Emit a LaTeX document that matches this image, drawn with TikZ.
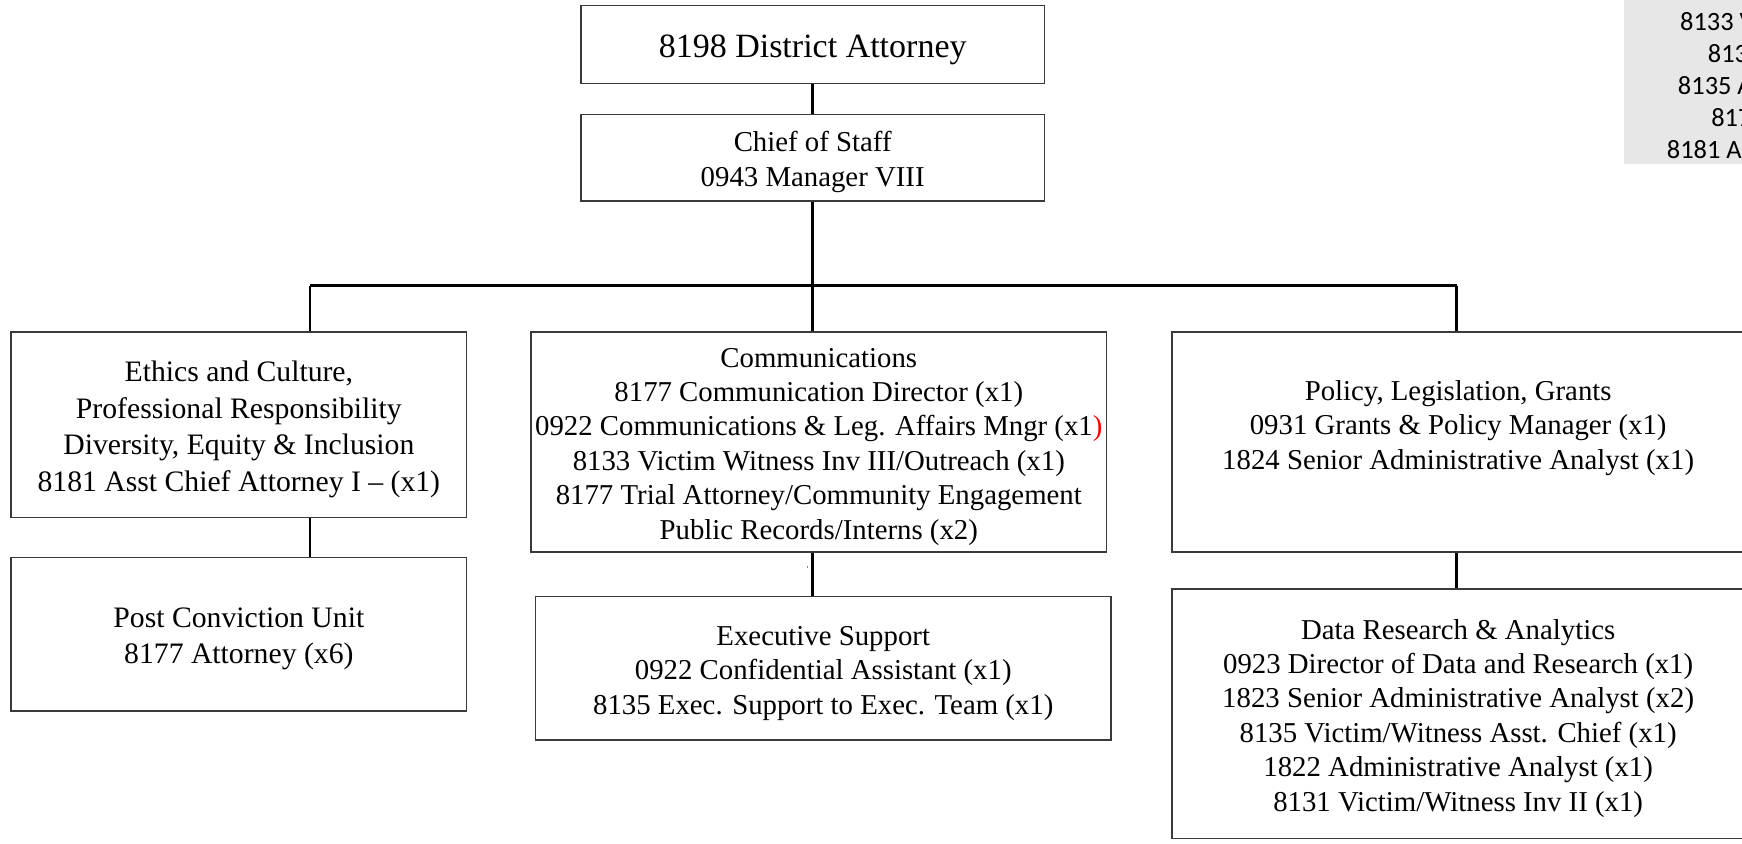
\documentclass[tikz,border=0pt]{standalone}
\usepackage{fontspec}
\setmainfont{Liberation Serif}
\newfontfamily\calib{Carlito}
\definecolor{boxc}{HTML}{3A3A3A}
\definecolor{graybg}{HTML}{E7E7E7}
\begin{document}
\begin{tikzpicture}[x=0.5556pt,y=-0.5556pt]
\tikzset{
  box/.style={draw=boxc, line width=0.7pt, inner sep=0pt},
  txt/.style={inner sep=0pt, align=center, yshift=-2.2pt, font=\fontsize{14.4}{17.2}\selectfont},
  bigtxt/.style={font=\fontsize{14.85}{18.3}\selectfont},
  conn/.style={line width=1.3pt, black},
  side/.style={anchor=west, inner sep=0pt, font=\calib\fontsize{13.2}{16}\selectfont, text=black},
}
\useasboundingbox (0,0) rectangle (1568,759);
\clip (0,0) rectangle (1568,759);
\fill[white] (0,0) rectangle (1568,759);

% side grey panel (cut off at the page edge)
\fill[graybg] (1462,0) rectangle (1600,148);
\node[side] (s1) at (1512,19.8) {8133 V};
\node[side] (s2) at (1537,48.6) {813};
\node[side] (s3) at (1510,77.4) {8135 A};
\node[side] (s4) at (1540,106.2) {817};
\node[side] (s5) at (1500,135) {8181 A};

% boxes
\node[box, minimum width=417*0.5556pt, minimum height=70*0.5556pt] (da) at (731.5,40) {};
\node[box, minimum width=417*0.5556pt, minimum height=78*0.5556pt] (cos) at (731.5,142) {};
\node[box, minimum width=410*0.5556pt, minimum height=167*0.5556pt] (eth) at (215,382.5) {};
\node[box, minimum width=410*0.5556pt, minimum height=138*0.5556pt] (pcu) at (215,571) {};
\node[box, minimum width=518*0.5556pt, minimum height=198*0.5556pt] (com) at (737,398) {};
\node[box, minimum width=518*0.5556pt, minimum height=129*0.5556pt] (exs) at (741,601.5) {};
\node[box, minimum width=515*0.5556pt, minimum height=198*0.5556pt] (pol) at (1312.5,398) {};
\node[box, minimum width=515*0.5556pt, minimum height=225*0.5556pt] (dra) at (1312.5,642.5) {};

% texts
\node[txt, font=\fontsize{17}{20}\selectfont, yshift=-0.6pt] (tda) at (da.center) {8198 District Attorney};
\node[txt] (tcos) at (cos.center) {Chief of Staff\\0943 Manager VIII};
\node[txt, bigtxt] (teth) at (eth.center) {Ethics and Culture,\\Professional Responsibility\\Diversity, Equity \& Inclusion\\8181 Asst Chief Attorney I -- (x1)};
\node[txt, bigtxt] (tpcu) at (pcu.center) {Post Conviction Unit\\8177 Attorney (x6)};
\node[txt] (tcom) at (com.center) {Communications\\8177 Communication Director (x1)\\0922 Communications \& Leg. Affairs Mngr (x1{\color{red})}\\8133 Victim Witness Inv III/Outreach (x1)\\8177 Trial Attorney/Community Engagement\\Public Records/Interns (x2)};
\node[txt, yshift=-0.3pt] (texs) at (exs.center) {Executive Support\\0922 Confidential Assistant (x1)\\8135 Exec. Support to Exec. Team (x1)};
\node[txt, yshift=2.2pt] (tpol) at (pol.center) {Policy, Legislation, Grants\\0931 Grants \& Policy Manager (x1)\\1824 Senior Administrative Analyst (x1)\\\mbox{}};
\node[txt] (tdra) at (dra.center) {Data Research \& Analytics\\0923 Director of Data and Research (x1)\\1823 Senior Administrative Analyst (x2)\\8135 Victim/Witness Asst. Chief (x1)\\1822 Administrative Analyst (x1)\\8131 Victim/Witness Inv II (x1)};

% bus coordinates
\coordinate (bl) at (279,257);
\coordinate (bm) at (731.5,257);
\coordinate (br) at (1311,257);

% connectors
\draw[conn] (da) -- (cos);
\draw[conn] (cos.south) -- (bm);
\draw[conn] (bl) -- (br);
\draw[conn] (bl) -- (bl |- eth.north);
\draw[conn] (bm) -- (bm |- com.north);
\draw[conn] (br) -- (br |- pol.north);
\draw[conn] (eth.south -| bl) -- (pcu.north -| bl);
\draw[conn] (com.south -| bm) -- (exs.north -| bm);
\draw[conn] (pol.south -| br) -- (dra.north -| br);

% stray speck
\fill[gray] (726.5,509.5) rectangle (727.5,511.5);
\end{tikzpicture}
\end{document}
